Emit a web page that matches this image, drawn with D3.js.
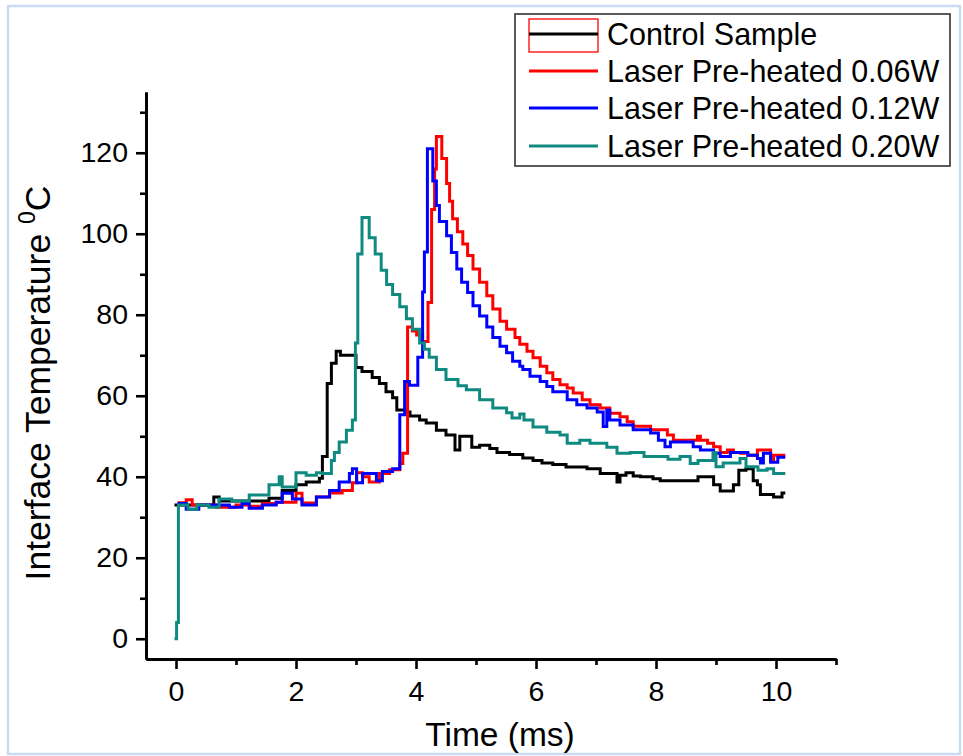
<!DOCTYPE html>
<html>
<head>
<meta charset="utf-8">
<script src="https://cdn.jsdelivr.net/npm/d3@7"></script>
<style>
  html, body { margin: 0; padding: 0; background: #fff; }
  svg { display: block; }
  text { font-family: "Liberation Sans", Arial, sans-serif; fill: #000; }
</style>
</head>
<body>
<svg id="chart" width="963" height="756"></svg>
<script>
// ---- data: [time (ms), temperature (°C)] step breakpoints ----
const seriesNames = ["Control Sample", "Laser Pre-heated 0.06W", "Laser Pre-heated 0.12W", "Laser Pre-heated 0.20W"];

const control = [[0,33],[0.63,35],[0.72,34],[1.55,34.7],[1.77,36.6],[2.0,38],[2.17,38.7],[2.39,39.6],[2.44,45],[2.52,63],[2.59,68],[2.67,71],[2.74,70],[3.0,67],[3.1,66],[3.27,64.5],[3.39,63],[3.5,61],[3.61,59.5],[3.68,56.5],[3.84,56],[3.9,55],[4.06,54],[4.17,53.3],[4.34,51.5],[4.5,50.3],[4.65,46.6],[4.73,50],[4.93,47.3],[5.06,47.8],[5.23,47],[5.35,46],[5.56,45.5],[5.78,44.6],[5.95,44],[6.1,43.4],[6.28,43],[6.5,42.4],[6.85,42],[7.07,40.8],[7.35,38.7],[7.4,40.4],[7.5,41],[7.62,40.2],[7.74,40],[7.95,39.5],[8.07,39],[8.6,39],[8.7,40],[8.91,40],[8.96,38],[9.07,36.5],[9.29,38],[9.38,41.6],[9.5,42],[9.62,39],[9.69,38],[9.74,35.6],[9.96,35],[10.1,36],[10.13,36]];

const laser006 = [[0.05,33.6],[0.17,34.3],[0.27,33],[0.67,32.5],[1.0,33],[1.22,32.7],[1.44,33.4],[1.67,33.7],[2.0,35.9],[2.1,33.5],[2.34,35],[2.56,36],[2.77,36.6],[2.94,38.5],[3.01,41],[3.11,40],[3.22,38.7],[3.39,40.8],[3.56,41.7],[3.73,43.3],[3.78,45.8],[3.86,77],[3.94,76],[4.01,75],[4.11,73.4],[4.2,83],[4.26,106],[4.31,116],[4.34,124],[4.43,118.6],[4.51,112.4],[4.56,108],[4.61,103.7],[4.69,100.5],[4.78,97.5],[4.86,94.6],[4.95,91.3],[5.06,88],[5.18,84.7],[5.28,81.4],[5.4,78.4],[5.51,76.4],[5.65,74.4],[5.73,72.7],[5.85,71],[5.95,69.4],[6.07,67.3],[6.18,65.7],[6.28,64],[6.4,62.7],[6.52,61.9],[6.62,60.7],[6.77,59],[6.9,57.8],[7.07,57],[7.23,55.7],[7.4,54.8],[7.52,53.6],[7.62,52.5],[7.91,51.6],[8.19,50.3],[8.29,49],[8.69,50],[8.74,49],[8.86,48.3],[8.96,47.4],[9.07,46],[9.19,46.6],[9.29,46],[9.41,45.8],[9.53,45.3],[9.69,46.6],[9.91,44],[9.96,45.3],[10.13,45.3]];

const laser012 = [[0.05,33.4],[0.17,32],[0.38,33],[0.89,32.5],[1.1,33.4],[1.22,32.2],[1.44,33],[1.67,33.7],[1.77,35.9],[1.94,34.5],[2.1,33],[2.34,35],[2.56,36.6],[2.72,38.7],[2.89,40.8],[2.94,42],[3.01,38.5],[3.11,40.8],[3.34,39],[3.44,41.3],[3.61,42],[3.73,55.3],[3.81,63.5],[3.89,62.6],[4.03,69.5],[4.11,85.6],[4.14,95.5],[4.19,121],[4.28,113],[4.34,107],[4.39,103],[4.51,99.5],[4.59,95.4],[4.68,91.3],[4.76,88],[4.86,85.5],[4.95,82.2],[5.06,79.7],[5.18,77],[5.28,74.4],[5.4,72.2],[5.51,70.6],[5.61,68.5],[5.73,67.3],[5.78,66.5],[5.9,64.8],[6.07,63.5],[6.18,62.3],[6.28,61],[6.52,59],[6.68,57.8],[6.85,57],[7.02,56],[7.12,52.4],[7.18,56.5],[7.23,54],[7.4,52.8],[7.62,51.6],[7.91,50.8],[8.04,49],[8.15,47.4],[8.24,48.6],[8.62,47.4],[8.74,46.6],[8.96,45.8],[9.07,45],[9.24,46],[9.53,45.3],[9.69,44.5],[9.74,43.4],[9.79,45.8],[9.91,43.6],[10.03,44.8],[10.13,44.8]];

const laser020 = [[0,0],[0.01,4],[0.04,33],[0.2,32],[0.35,33],[0.55,32.5],[0.72,34.5],[0.93,34],[1.22,35.5],[1.55,38],[1.72,40],[1.77,37.5],[2.0,41],[2.17,40.4],[2.34,41],[2.44,40.8],[2.59,44],[2.64,46],[2.72,48.6],[2.84,51.5],[2.94,54],[2.99,73],[3.03,95],[3.1,104],[3.22,99],[3.32,95],[3.42,91],[3.51,87.5],[3.61,85],[3.73,82],[3.84,79],[3.94,76.4],[4.06,73],[4.14,71.5],[4.22,69.5],[4.34,66.5],[4.5,64],[4.7,62.5],[4.84,61.5],[5.06,59],[5.28,57],[5.51,55.8],[5.6,54.5],[5.73,55.5],[5.8,54],[5.95,52.3],[6.18,51],[6.4,50.3],[6.52,48.3],[6.73,49],[6.9,48.3],[7.18,47.3],[7.35,45.8],[7.57,46],[7.8,45],[8.2,44.3],[8.4,45],[8.57,43.3],[8.7,44],[8.95,46],[9.0,42.5],[9.12,43.4],[9.4,44.5],[9.5,42.5],[9.7,41.6],[9.85,42],[9.96,40.8],[10.13,40.8]];

const xMajorTicks = [0, 2, 4, 6, 8, 10];
const xMinorTicks = [1, 3, 5, 7, 9, 11];
const yMajorTicks = [0, 20, 40, 60, 80, 100, 120];
const yMinorTicks = [10, 30, 50, 70, 90, 110, 130];
const xTitle = "Time (ms)";
const yTitle = "Interface Temperature ";

// ---- drawing ----
const colors = ["#000000", "#ff0000", "#0000ff", "#0f8a80"];
const allSeries = [control, laser006, laser012, laser020];

const svg = d3.select("#chart");
svg.append("rect").attr("width", 963).attr("height", 756).attr("fill", "#fff");
svg.append("rect").attr("x", 8).attr("y", 6).attr("width", 952).attr("height", 748)
  .attr("fill", "none").attr("stroke", "#c9dcf3").attr("stroke-width", 2.5);

const x = d3.scaleLinear().domain([-0.5, 11]).range([146, 836]);
const y = d3.scaleLinear().domain([-5, 135]).range([659, 92]);

const line = d3.line().x(d => x(d[0])).y(d => y(d[1])).curve(d3.curveStepAfter);

const g = svg.append("g");
allSeries.forEach((s, i) => {
  g.append("path").datum(s).attr("d", line)
    .attr("fill", "none").attr("stroke", colors[i]).attr("stroke-width", 3)
    .attr("stroke-linejoin", "miter").attr("stroke-linecap", "square");
});

// axes
const xAxis = svg.append("g").attr("transform", `translate(0,${y.range()[0]})`)
  .call(d3.axisBottom(x).tickValues(xMajorTicks).tickSize(10).tickSizeOuter(0).tickPadding(12).tickFormat(d3.format("d")));
const xMinor = svg.append("g").attr("transform", `translate(0,${y.range()[0]})`)
  .call(d3.axisBottom(x).tickValues(xMinorTicks).tickSize(6).tickSizeOuter(0).tickFormat(""));
const yAxis = svg.append("g").attr("transform", `translate(${x.range()[0]},0)`)
  .call(d3.axisLeft(y).tickValues(yMajorTicks).tickSize(10).tickSizeOuter(0).tickPadding(8).tickFormat(d3.format("d")));
const yMinor = svg.append("g").attr("transform", `translate(${x.range()[0]},0)`)
  .call(d3.axisLeft(y).tickValues(yMinorTicks).tickSize(6).tickSizeOuter(0).tickFormat(""));

[xAxis, xMinor, yAxis, yMinor].forEach(a => {
  a.select(".domain").attr("stroke", "#000").attr("stroke-width", 2.8);
  a.selectAll(".tick line").attr("stroke", "#000").attr("stroke-width", 2.6);
  a.selectAll(".tick text").attr("font-size", 28.5).attr("font-family", "Liberation Sans, Arial, sans-serif").attr("fill", "#000");
});

// axis titles
svg.append("text").attr("x", 500).attr("y", 746).attr("text-anchor", "middle")
  .attr("font-size", 33.5).text(xTitle);

const yt = svg.append("text").attr("transform", "translate(50,383) rotate(-90)")
  .attr("text-anchor", "middle").attr("font-size", 35.5);
yt.append("tspan").text(yTitle);
yt.append("tspan").attr("font-size", 23).attr("dy", -15).text("0");
yt.append("tspan").attr("dy", 15).text("C");

// legend
const lg = svg.append("g");
lg.append("rect").attr("x", 515).attr("y", 14).attr("width", 435).attr("height", 152)
  .attr("fill", "#fff").attr("stroke", "#333").attr("stroke-width", 1.6);
const rowY = [34, 71, 108, 146];
seriesNames.forEach((name, i) => {
  if (i === 0) {
    lg.append("rect").attr("x", 529).attr("y", 19).attr("width", 69).attr("height", 33)
      .attr("fill", "none").attr("stroke", "#ff0000").attr("stroke-width", 1.3);
  }
  lg.append("line").attr("x1", 529).attr("x2", 598).attr("y1", rowY[i]).attr("y2", rowY[i])
    .attr("stroke", colors[i]).attr("stroke-width", 3);
  lg.append("text").attr("x", 607).attr("y", rowY[i] + 11).attr("font-size", 30.5).text(name);
});
</script>
</body>
</html>
